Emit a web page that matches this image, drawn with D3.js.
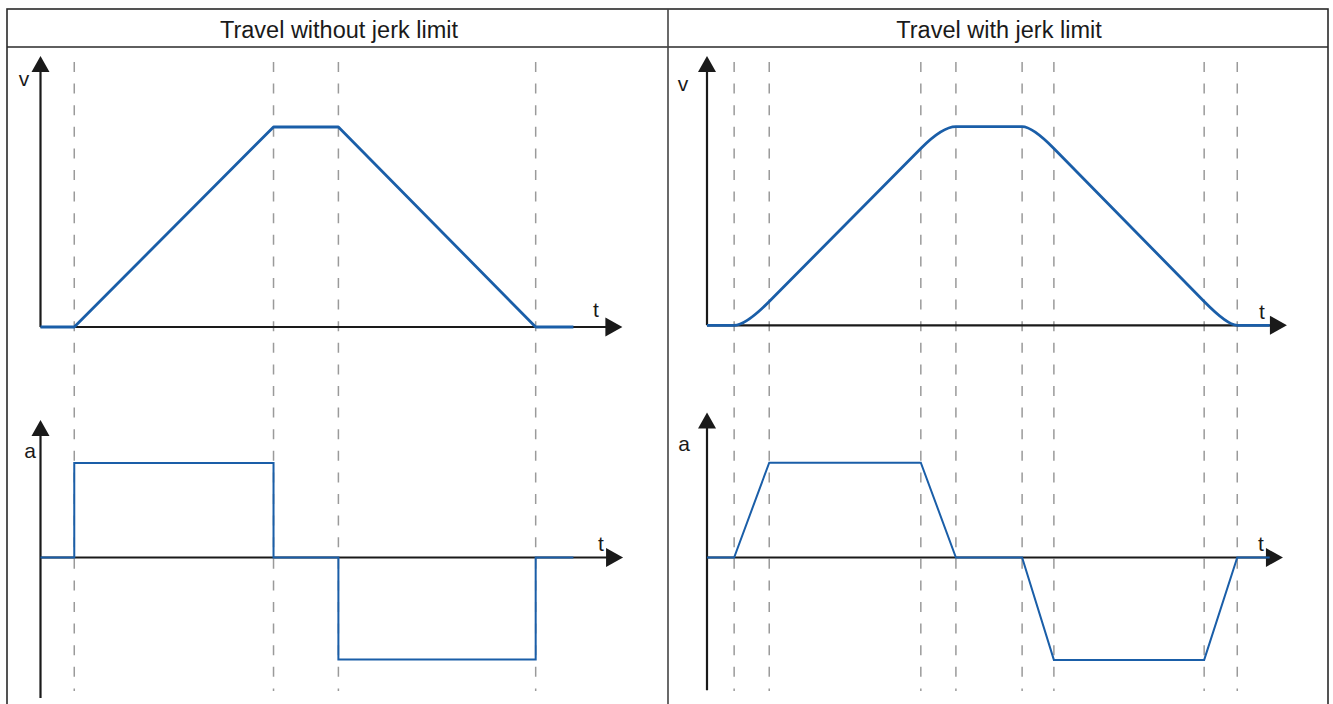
<!DOCTYPE html>
<html><head><meta charset="utf-8">
<script src="https://cdn.jsdelivr.net/npm/d3@7"></script>
<style>
body{margin:0;background:#fff}
svg{display:block}
text{font-family:"Liberation Sans", Arial, sans-serif; fill:#1a1a1a}
</style>
</head><body>
<svg id="c" width="1333" height="704"></svg>
<script>
// ---------- data ----------
const titles = ["Travel without jerk limit", "Travel with jerk limit"];
const axisNames = ["v", "a", "t"];

// Left: travel without jerk limit
const leftMarks = [0.51, 3.52, 4.50, 7.48];
const leftVelT = [0, 0.51, 3.52, 4.50, 7.48, 8.05];
const leftVel  = [0, 0, 1, 1, 0, 0];
const leftVelPhase = ["hold", "const", "hold", "const", "hold"];
const leftAccT = [0, 0.51, 0.51, 3.52, 3.52, 4.50, 4.50, 7.48, 7.48, 8.05];
const leftAcc  = [0, 0, 1, 1, 0, 0, -1.08, -1.08, 0, 0];

// Right: travel with jerk limit
const rightMarks = [0.41, 0.94, 3.23, 3.76, 4.76, 5.24, 7.51, 8.01];
const rightVelT = [0, 0.41, 0.94, 3.23, 3.76, 4.76, 5.24, 7.51, 8.01, 8.50];
const rightVel  = [0, 0, 0.12, 0.89, 1, 1, 0.89, 0.12, 0, 0];
const rightVelPhase = ["hold", "jerk", "const", "jerk", "hold", "jerk", "const", "jerk", "hold"];
const rightAccT = [0, 0.41, 0.94, 3.23, 3.76, 4.76, 5.24, 7.51, 8.01, 8.50];
const rightAcc  = [0, 0, 1, 1, 0, 0, -1.08, -1.08, 0, 0];

// axis extents (data units)
const leftExtent  = {tTop: 8.79, tBot: 8.80, vMax: 1.355, aMax: 1.455, aMin: -1.487};
const rightExtent = {tTop: 8.76, tBot: 8.70, vMax: 1.356, aMax: 1.53, aMin: -1.40};

// ---------- layout ----------
const BLUE = "#1a5ea8";
const svg = d3.select("#c");

const panels = [
  {title: titles[0], cx: 339, marks: leftMarks,
   vel: leftVelT.map((t,i)=>({t, y: leftVel[i]})), phase: leftVelPhase,
   acc: leftAccT.map((t,i)=>({t, y: leftAcc[i]})),
   ext: leftExtent,
   x0: 40.5, k: 66.2, v0: 327, v1: 127, a0: 557.5, a1: 463,
   vLab: [24, 86], aLab: [30, 458], tTopLab: [596, 317], tBotLab: [601, 551]},
  {title: titles[1], cx: 999, marks: rightMarks,
   vel: rightVelT.map((t,i)=>({t, y: rightVel[i]})), phase: rightVelPhase,
   acc: rightAccT.map((t,i)=>({t, y: rightAcc[i]})),
   ext: rightExtent,
   x0: 707, k: 66.2, v0: 325.3, v1: 126.7, a0: 557.5, a1: 462.7,
   vLab: [683, 91], aLab: [684, 451], tTopLab: [1262, 319], tBotLab: [1261, 551]}
];

// ---------- table frame ----------
const frame = svg.append("g").attr("fill", "none").attr("stroke", "#2a2a2a").attr("stroke-width", 1.6);
frame.append("rect").attr("x", 7).attr("y", 9).attr("width", 1321).attr("height", 720);
frame.append("line").attr("x1", 7).attr("x2", 1328).attr("y1", 47).attr("y2", 47);
frame.append("line").attr("x1", 668).attr("x2", 668).attr("y1", 9).attr("y2", 720).attr("stroke", "#444");

function arrowUp(g, x, y) {
  g.append("path").attr("d", `M${x},${y} L${x-9},${y+16} L${x+9},${y+16} Z`).attr("fill", "#1a1a1a");
}
function arrowRight(g, x, y) {
  g.append("path").attr("d", `M${x},${y} L${x-17},${y-9.5} L${x-17},${y+9.5} Z`).attr("fill", "#1a1a1a");
}

// velocity path: jerk phases drawn as parabolic arcs (quadratic Bezier) tangent to neighbours
function velocityPath(pts, phase) {
  const path = d3.path();
  path.moveTo(pts[0][0], pts[0][1]);
  for (let i = 0; i < pts.length - 1; i++) {
    const a = pts[i], b = pts[i + 1];
    if (phase[i] === "jerk" && i > 0 && i + 2 < pts.length) {
      const p0 = pts[i - 1], p3 = pts[i + 2];
      const d1 = [a[0] - p0[0], a[1] - p0[1]];
      const d2 = [p3[0] - b[0], p3[1] - b[1]];
      const den = d1[0] * d2[1] - d1[1] * d2[0];
      let c;
      if (Math.abs(den) < 1e-9) c = [(a[0] + b[0]) / 2, (a[1] + b[1]) / 2];
      else {
        const s = ((b[0] - a[0]) * d2[1] - (b[1] - a[1]) * d2[0]) / den;
        c = [a[0] + s * d1[0], a[1] + s * d1[1]];
      }
      path.quadraticCurveTo(c[0], c[1], b[0], b[1]);
    } else {
      path.lineTo(b[0], b[1]);
    }
  }
  return path.toString();
}

panels.forEach(p => {
  const g = svg.append("g");
  g.append("text").attr("x", p.cx).attr("y", 37.5).attr("text-anchor", "middle")
    .attr("font-size", 23.5).text(p.title);

  const x = d3.scaleLinear().domain([0, 1]).range([p.x0, p.x0 + p.k]);
  const yv = d3.scaleLinear().domain([0, 1]).range([p.v0, p.v1]);
  const ya = d3.scaleLinear().domain([0, 1]).range([p.a0, p.a1]);

  g.selectAll(".mark").data(p.marks).join("line")
    .attr("x1", d => x(d)).attr("x2", d => x(d))
    .attr("y1", 62).attr("y2", 691)
    .attr("stroke", "#9a9a9a").attr("stroke-width", 1.5)
    .attr("stroke-dasharray", "10,11.6");

  const ax = g.append("g").attr("stroke", "#1a1a1a").attr("stroke-width", 2.2);
  const vTip = yv(p.ext.vMax);
  ax.append("line").attr("x1", x(0)).attr("x2", x(0)).attr("y1", yv(0)).attr("y2", vTip + 14);
  ax.append("line").attr("x1", x(0)).attr("x2", x(p.ext.tTop) - 15).attr("y1", yv(0)).attr("y2", yv(0));
  arrowUp(g, x(0), vTip);
  arrowRight(g, x(p.ext.tTop), yv(0));

  const aTip = ya(p.ext.aMax);
  ax.append("line").attr("x1", x(0)).attr("x2", x(0)).attr("y1", ya(p.ext.aMin)).attr("y2", aTip + 14);
  ax.append("line").attr("x1", x(0)).attr("x2", x(p.ext.tBot) - 15).attr("y1", ya(0)).attr("y2", ya(0));
  arrowUp(g, x(0), aTip);
  arrowRight(g, x(p.ext.tBot), ya(0));

  const fs = 21;
  g.append("text").attr("x", p.vLab[0]).attr("y", p.vLab[1]).attr("text-anchor", "middle").attr("font-size", fs).text(axisNames[0]);
  g.append("text").attr("x", p.aLab[0]).attr("y", p.aLab[1]).attr("text-anchor", "middle").attr("font-size", fs).text(axisNames[1]);
  g.append("text").attr("x", p.tTopLab[0]).attr("y", p.tTopLab[1]).attr("text-anchor", "middle").attr("font-size", fs).text(axisNames[2]);
  g.append("text").attr("x", p.tBotLab[0]).attr("y", p.tBotLab[1]).attr("text-anchor", "middle").attr("font-size", fs).text(axisNames[2]);

  const pts = p.vel.map(d => [x(d.t), yv(d.y)]);
  g.append("path").attr("d", velocityPath(pts, p.phase))
    .attr("fill", "none").attr("stroke", BLUE).attr("stroke-width", 2.8).attr("stroke-linejoin", "round");

  const aLine = d3.line().x(d => x(d.t)).y(d => ya(d.y));
  g.append("path").datum(p.acc).attr("d", aLine)
    .attr("fill", "none").attr("stroke", BLUE).attr("stroke-width", 2).attr("stroke-linejoin", "miter");
});
</script>
</body></html>
